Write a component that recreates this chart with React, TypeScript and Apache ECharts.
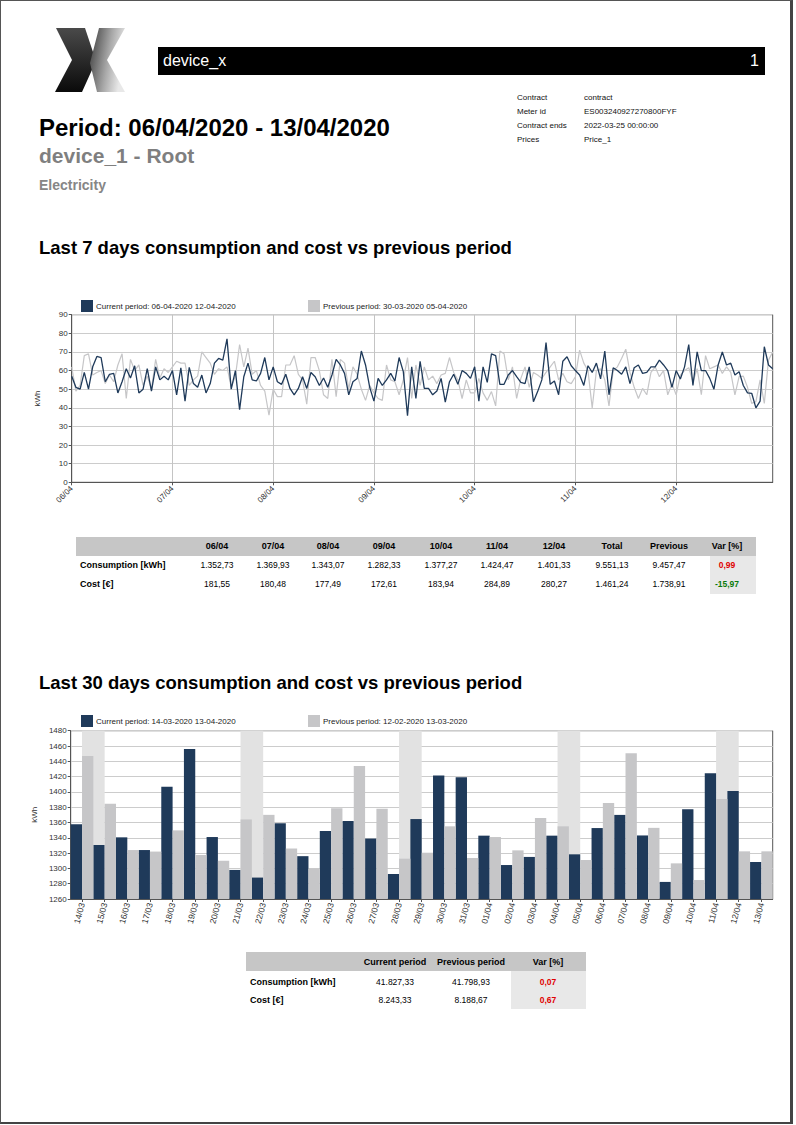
import React, { useEffect, useRef } from "react";
import * as echarts from "echarts";

const FONT = "'Liberation Sans', Arial, Helvetica, sans-serif";

// ---------- 7 days (hourly) ----------
const days7 = ["06/04", "07/04", "08/04", "09/04", "10/04", "11/04", "12/04"];
const hoursOfDay = ["00", "01", "02", "03", "04", "05", "06", "07", "08", "09", "10", "11", "12", "13", "14", "15", "16", "17", "18", "19", "20", "21", "22", "23"];
const cur7 = [
  57, 51, 50, 59, 50, 62, 67.6, 67, 54, 58, 58.5, 48, 54, 61, 56, 62.6, 48, 50, 61, 49, 62, 55, 57, 55,
  60, 47, 61.5, 43.6, 61.7, 53, 51, 57.6, 48, 53, 64, 66.5, 65.6, 77, 50, 60, 39, 56.7, 64, 55, 54.4, 58.5, 67, 55,
  62, 54, 52.6, 58, 50.4, 47, 50.4, 56.7, 50.4, 59, 56.7, 52, 56, 51, 57.6, 66, 63, 58.5, 47, 54, 55.8, 70.5, 63, 51,
  43.6, 55.8, 52, 55, 58.5, 54.4, 67, 59.4, 35.8, 62, 45, 65, 50.4, 50.4, 47, 49, 55.8, 43, 54, 58, 52.6, 60, 58.5, 55.8,
  62, 43.6, 62, 53.7, 69, 68, 52.6, 52.6, 57.6, 60, 56.7, 53.7, 53, 62, 43.3, 48.7, 55, 75, 52.6, 54.4, 47, 65, 67.4, 62.6,
  60, 57.6, 52, 62.6, 59, 64, 55.5, 70.5, 47, 61.5, 60, 58, 62, 53, 61.5, 63, 58.5, 59, 62, 62, 65.6, 63, 60, 51,
  60, 55.5, 62, 74, 52, 70, 60, 60, 55.8, 50, 63, 70, 63, 64, 57.6, 59.4, 52, 48, 47.8, 40, 43.6, 72.8, 63, 61,
];
const prev7 = [
  62, 49, 52, 68, 69, 57.6, 59, 60, 53, 57.6, 54, 63, 69, 45, 66, 60, 63, 52, 57, 50, 66, 56, 61, 59,
  62, 65, 64, 64, 52, 55, 57, 70, 67, 64, 58, 61, 60, 62, 51, 57, 74, 62, 72, 58, 60, 52, 49, 36,
  50, 46, 46, 63, 63, 68, 58, 55, 42, 67, 67, 60, 47, 45, 66, 46, 66, 64, 50, 62, 58, 50, 44, 52,
  48, 45, 44, 63, 55, 54, 47, 55, 67, 45, 63, 52, 62, 55, 57, 53, 57.6, 58.5, 67, 59, 55, 45, 55, 48,
  48, 55.8, 48, 44, 48.7, 41, 70.5, 69, 55, 62, 45, 55.8, 62, 51, 59, 57.6, 55.8, 59, 62, 65, 55, 58.5, 54, 53,
  56.7, 71, 64, 60, 40, 60, 61, 55, 41, 60, 62, 66.5, 71.5, 59, 51, 45, 50.4, 47, 59, 62, 56.7, 60, 47, 53,
  47, 57.6, 60, 61.5, 54, 61, 47, 68, 61, 62, 63, 58.5, 62, 59, 47, 56.7, 57, 51, 42.4, 43.3, 55, 42.4, 65.6, 70,
];
const legend7 = ["Current period: 06-04-2020 12-04-2020", "Previous period: 30-03-2020 05-04-2020"];

// ---------- 30 days (daily) ----------
const days30 = ["14/03", "15/03", "16/03", "17/03", "18/03", "19/03", "20/03", "21/03", "22/03", "23/03", "24/03", "25/03", "26/03", "27/03", "28/03", "29/03", "30/03", "31/03", "01/04", "02/04", "03/04", "04/04", "05/04", "06/04", "07/04", "08/04", "09/04", "10/04", "11/04", "12/04", "13/04"];
const cur30 = [1357.6, 1330.6, 1340.6, 1324, 1406.8, 1456, 1341, 1298, 1288, 1359, 1316, 1349, 1362, 1339, 1292.7, 1364.5, 1421.6, 1419, 1342.8, 1304.4, 1315, 1342.8, 1318.4, 1352.73, 1369.93, 1343.07, 1282.33, 1377.27, 1424.47, 1401.33, 1308.4];
const prev30 = [1447, 1384.6, 1324, 1322, 1349.7, 1317.5, 1310, 1364, 1370, 1326, 1300, 1378.5, 1434, 1378, 1312.7, 1320.5, 1355, 1313.6, 1341, 1323.6, 1366, 1355, 1311, 1385.5, 1450.4, 1353, 1306.6, 1284.8, 1390.7, 1322.3, 1322.3];
const weekends30 = [["14/03", "15/03"], ["21/03", "22/03"], ["28/03", "29/03"], ["04/04", "05/04"], ["11/04", "12/04"]];
const legend30 = ["Current period: 14-03-2020 13-04-2020", "Previous period: 12-02-2020 13-03-2020"];

// ---------- tables ----------
const t1Cols = ["06/04", "07/04", "08/04", "09/04", "10/04", "11/04", "12/04", "Total", "Previous", "Var [%]"];
const t1Cons = ["1.352,73", "1.369,93", "1.343,07", "1.282,33", "1.377,27", "1.424,47", "1.401,33", "9.551,13", "9.457,47", "0,99"];
const t1Cost = ["181,55", "180,48", "177,49", "172,61", "183,94", "284,89", "280,27", "1.461,24", "1.738,91", "-15,97"];
const t2Cols = ["Current period", "Previous period", "Var [%]"];
const t2Cons = ["41.827,33", "41.798,93", "0,07"];
const t2Cost = ["8.243,33", "8.188,67", "0,67"];
const rowLabels = ["Consumption [kWh]", "Cost [€]"];
const metaLabels = ["Contract", "Meter id", "Contract ends", "Prices"];
const metaValues = ["contract", "ES003240927270800FYF", "2022-03-25 00:00:00", "Price_1"];

const DARK = "#1f3a5a";
const GREY = "#c6c6c8";

function useChart(build: () => any) {
  const ref = useRef<HTMLDivElement>(null);
  useEffect(() => {
    if (!ref.current) return;
    const chart = echarts.init(ref.current, null, { renderer: "svg" });
    chart.setOption(build());
    return () => chart.dispose();
  }, []);
  return ref;
}

const axisText = { fontSize: 8, color: "#333", fontFamily: FONT };
const legendText = { fontSize: 8, color: "#222", fontFamily: FONT, padding: [0, 0, 0, -2] };

function LineChart() {
  const cats = days7.flatMap((d) => hoursOfDay.map((h) => `${d} ${h}:00`));
  const every = (i: number) => i % 24 === 0;
  const ref = useChart(() => ({
    animation: false,
    textStyle: { fontFamily: FONT },
    legend: [
      { data: [legend7[0]], left: 76, top: 10, itemWidth: 12, itemHeight: 12, icon: "rect", textStyle: legendText },
      { data: [legend7[1]], left: 303, top: 10, itemWidth: 12, itemHeight: 12, icon: "rect", textStyle: legendText },
    ],
    grid: { left: 71.7, top: 29.7, width: 701, height: 167.6, show: true, borderColor: "#555", borderWidth: 1 },
    xAxis: {
      type: "category",
      data: cats,
      boundaryGap: false,
      axisLine: { lineStyle: { color: "#555" } },
      axisTick: { show: true, interval: every, length: 3, lineStyle: { color: "#555" } },
      axisLabel: { ...axisText, interval: every, rotate: 45, margin: 5, formatter: (v: string) => v.split(" ")[0] },
      splitLine: { show: true, interval: every, lineStyle: { color: "#c4c4c4" } },
    },
    yAxis: {
      type: "value",
      min: 0,
      max: 90,
      interval: 10,
      name: "kWh",
      nameLocation: "middle",
      nameGap: 30,
      nameTextStyle: { fontSize: 8, color: "#333", fontFamily: FONT },
      axisLine: { show: true, lineStyle: { color: "#555" } },
      axisTick: { show: true, length: 3, lineStyle: { color: "#555" } },
      axisLabel: { ...axisText, margin: 4 },
      splitLine: { lineStyle: { color: "#cccccc" } },
    },
    series: [
      { name: legend7[0], type: "line", data: cur7, showSymbol: false, color: DARK, lineStyle: { width: 1.3, color: DARK }, z: 3 },
      { name: legend7[1], type: "line", data: prev7, showSymbol: false, color: GREY, lineStyle: { width: 1.2, color: GREY }, z: 2 },
    ],
  }));
  return <div ref={ref} style={{ position: "absolute", left: 0, top: 285, width: 796, height: 240 }} />;
}

function BarChart() {
  const ref = useChart(() => ({
    animation: false,
    textStyle: { fontFamily: FONT },
    legend: [
      { data: [legend30[0]], left: 76, top: 10, itemWidth: 12, itemHeight: 12, icon: "rect", textStyle: legendText },
      { data: [legend30[1]], left: 303, top: 10, itemWidth: 12, itemHeight: 12, icon: "rect", textStyle: legendText },
    ],
    grid: { left: 70.7, top: 30.7, width: 702, height: 168.3, show: true, borderColor: "#555", borderWidth: 1 },
    xAxis: {
      type: "category",
      data: days30,
      axisLine: { lineStyle: { color: "#555" } },
      axisTick: { show: true, alignWithLabel: true, length: 3, lineStyle: { color: "#555" } },
      axisLabel: { ...axisText, fontSize: 8.5, interval: 0, rotate: 75, margin: 4 },
      splitLine: { show: false },
    },
    yAxis: {
      type: "value",
      min: 1260,
      max: 1480,
      interval: 20,
      name: "kWh",
      nameLocation: "middle",
      nameGap: 30,
      nameTextStyle: { fontSize: 8, color: "#333", fontFamily: FONT },
      axisLine: { show: true, lineStyle: { color: "#555" } },
      axisTick: { show: true, length: 3, lineStyle: { color: "#555" } },
      axisLabel: { ...axisText, margin: 4, formatter: (v: number) => String(v) },
      splitLine: { lineStyle: { color: "#cccccc" } },
    },
    series: [
      {
        name: legend30[0],
        type: "bar",
        data: cur30,
        color: DARK,
        itemStyle: { color: DARK },
        barGap: "0%",
        barCategoryGap: "0%",
        markArea: {
          silent: true,
          itemStyle: { color: "#e2e2e2" },
          data: weekends30.map(([a, b]) => [{ xAxis: a }, { xAxis: b }]),
        },
      },
      { name: legend30[1], type: "bar", data: prev30, color: GREY, itemStyle: { color: GREY }, barGap: "0%", barCategoryGap: "0%" },
    ],
  }));
  return <div ref={ref} style={{ position: "absolute", left: 0, top: 700, width: 796, height: 250 }} />;
}

function Txt(props: { x: number; y: number; size: number; children: any; bold?: boolean; color?: string; align?: "left" | "center" | "right"; w?: number }) {
  const { x, y, size, bold, color, align = "left", w = 0 } = props;
  const style: any = {
    position: "absolute",
    top: y - size * 0.6,
    fontSize: size,
    lineHeight: `${size * 1.2}px`,
    fontWeight: bold ? "bold" : "normal",
    color: color || "#000",
    whiteSpace: "nowrap",
    fontFamily: FONT,
  };
  if (align === "left") style.left = x;
  else if (align === "center") { style.left = x - 100; style.width = 200; style.textAlign = "center"; }
  else { style.left = x - w; style.width = w; style.textAlign = "right"; }
  return <div style={style}>{props.children}</div>;
}

function Logo() {
  return (
    <svg style={{ position: "absolute", left: 55, top: 28 }} width={71} height={65} viewBox="0 0 71 65">
      <defs>
        <linearGradient id="lg1" x1="0" y1="0" x2="0" y2="1">
          <stop offset="0" stopColor="#4a4a4a" />
          <stop offset="0.5" stopColor="#2a2a2a" />
          <stop offset="1" stopColor="#0a0a0a" />
        </linearGradient>
        <linearGradient id="lg2" x1="0" y1="0" x2="1" y2="0.3">
          <stop offset="0" stopColor="#3a3a3a" />
          <stop offset="0.6" stopColor="#a8a8a8" />
          <stop offset="1" stopColor="#e8e8e8" />
        </linearGradient>
      </defs>
      <polygon points="1,0 30,0 41,33 27,64 0,64 17,32" fill="url(#lg1)" />
      <polygon points="44,0 70,0 52,32 70,64 42,64 35,35" fill="url(#lg2)" />
    </svg>
  );
}

export default function App() {
  const t1X = [217, 273, 328, 384, 441, 497, 554, 612, 669, 727];
  const t2X = [395, 471, 548];
  const varColor = (v: string) => (v.startsWith("-") ? "#0a7a0a" : "#e00000");
  const LS = 9;
  const VS = 8.5;
  return (
    <div style={{ position: "absolute", left: 0, top: 0, width: 796, height: 1125, background: "#fff", fontFamily: FONT, overflow: "hidden" }}>
      <div style={{ position: "absolute", left: 0, top: 0, width: 789, height: 1121, borderLeft: "1px solid #555", borderTop: "1px solid #555", borderRight: "3px solid #444", borderBottom: "2px solid #444" }} />
      <Logo />
      <div style={{ position: "absolute", left: 158, top: 47, width: 607, height: 28, background: "#000" }} />
      <Txt x={163} y={61} size={16} color="#fff">device_x</Txt>
      <Txt x={759} y={61} size={16} color="#fff" align="right" w={40}>1</Txt>
      {metaLabels.map((l, i) => (
        <Txt key={l} x={517} y={98 + i * 14} size={8} color="#111">{l}</Txt>
      ))}
      {metaValues.map((v, i) => (
        <Txt key={v} x={584} y={98 + i * 14} size={8} color="#111">{v}</Txt>
      ))}
      <Txt x={39} y={128} size={24} bold>Period: 06/04/2020 - 13/04/2020</Txt>
      <Txt x={39} y={156} size={21} bold color="#7f7f7f">device_1 - Root</Txt>
      <Txt x={39} y={185} size={14} bold color="#868686">Electricity</Txt>
      <Txt x={39} y={248} size={18.5} bold>Last 7 days consumption and cost vs previous period</Txt>
      <LineChart />
      {/* table 1 */}
      <div style={{ position: "absolute", left: 76, top: 537, width: 680, height: 19, background: "#c6c6c6" }} />
      <div style={{ position: "absolute", left: 710, top: 556, width: 46, height: 38, background: "#e8e8e8" }} />
      {t1Cols.map((c, i) => (
        <Txt key={c} x={t1X[i]} y={546.5} size={LS} bold align="center">{c}</Txt>
      ))}
      <Txt x={80} y={565} size={LS} bold>{rowLabels[0]}</Txt>
      <Txt x={80} y={584} size={LS} bold>{rowLabels[1]}</Txt>
      {t1Cons.map((v, i) => (
        <Txt key={"a" + i} x={t1X[i]} y={565} size={VS} align="center" bold={i === 9} color={i === 9 ? varColor(v) : "#000"}>{v}</Txt>
      ))}
      {t1Cost.map((v, i) => (
        <Txt key={"b" + i} x={t1X[i]} y={584} size={VS} align="center" bold={i === 9} color={i === 9 ? varColor(v) : "#000"}>{v}</Txt>
      ))}
      <Txt x={39} y={683} size={18.5} bold>Last 30 days consumption and cost vs previous period</Txt>
      <BarChart />
      {/* table 2 */}
      <div style={{ position: "absolute", left: 246, top: 952, width: 340, height: 19, background: "#c6c6c6" }} />
      <div style={{ position: "absolute", left: 511, top: 971, width: 75, height: 38, background: "#e8e8e8" }} />
      {t2Cols.map((c, i) => (
        <Txt key={c} x={t2X[i]} y={962} size={LS} bold align="center">{c}</Txt>
      ))}
      <Txt x={250} y={982} size={LS} bold>{rowLabels[0]}</Txt>
      <Txt x={250} y={1000} size={LS} bold>{rowLabels[1]}</Txt>
      {t2Cons.map((v, i) => (
        <Txt key={"c" + i} x={t2X[i]} y={982} size={VS} align="center" bold={i === 2} color={i === 2 ? varColor(v) : "#000"}>{v}</Txt>
      ))}
      {t2Cost.map((v, i) => (
        <Txt key={"d" + i} x={t2X[i]} y={1000} size={VS} align="center" bold={i === 2} color={i === 2 ? varColor(v) : "#000"}>{v}</Txt>
      ))}
    </div>
  );
}
